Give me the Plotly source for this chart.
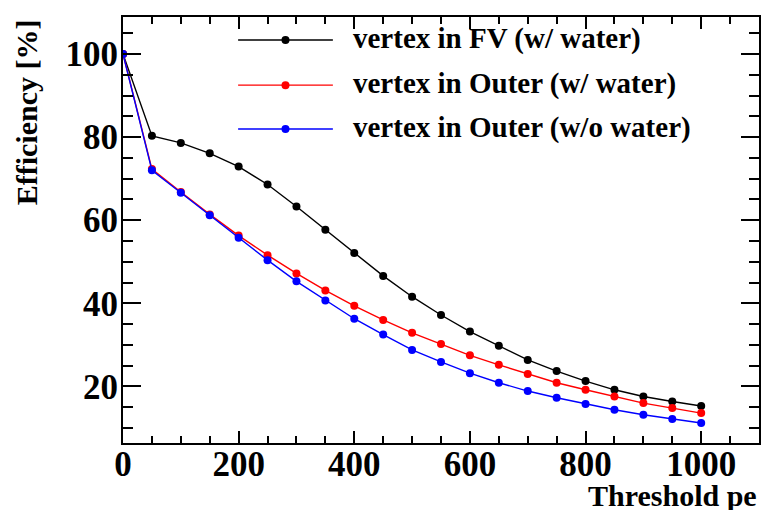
import plotly.graph_objects as go

# Threshold scan (photo-electrons) and selection efficiency in percent
threshold_pe = [0, 50, 100, 150, 200, 250, 300, 350, 400, 450, 500,
                550, 600, 650, 700, 750, 800, 850, 900, 950, 1000]

eff_fv_water = [100.0, 80.3, 78.6, 76.1, 72.9, 68.6, 63.3, 57.7, 52.1, 46.6, 41.6,
                37.2, 33.2, 29.8, 26.4, 23.7, 21.3, 19.2, 17.6, 16.4, 15.3]
eff_outer_water = [100.0, 72.3, 66.8, 61.4, 56.3, 51.6, 47.2, 43.1, 39.4, 36.0, 32.9,
                   30.2, 27.5, 25.2, 23.0, 20.9, 19.2, 17.6, 16.0, 14.8, 13.6]
eff_outer_nowater = [100.0, 72.0, 66.6, 61.2, 55.8, 50.4, 45.3, 40.7, 36.3, 32.5, 28.8,
                     25.9, 23.2, 20.9, 18.9, 17.3, 15.8, 14.4, 13.2, 12.2, 11.2]

series_names = ["vertex in FV (w/ water)",
                "vertex in Outer (w/ water)",
                "vertex in Outer (w/o water)"]
series_colors = ["#000000", "#ff0000", "#0000ff"]
series_values = [eff_fv_water, eff_outer_water, eff_outer_nowater]

x_ticks = [0, 200, 400, 600, 800, 1000]
y_ticks = [20, 40, 60, 80, 100]

FONT = "Liberation Serif"

fig = go.Figure()
for name, color, vals in zip(series_names, series_colors, series_values):
    fig.add_trace(go.Scatter(
        x=threshold_pe, y=vals, name=name, mode="lines+markers",
        line=dict(color=color, width=1.4),
        marker=dict(color=color, size=8, symbol="circle"),
        showlegend=False,
    ))

# Boxless legend drawn in paper space: line sample, dot, label
legend_rows_y = [0.946, 0.840, 0.737]
for name, color, ry in zip(series_names, series_colors, legend_rows_y):
    fig.add_shape(type="line", xref="paper", yref="paper",
                  x0=0.181, x1=0.330, y0=ry, y1=ry,
                  line=dict(color=color, width=1.4))
    fig.add_shape(type="circle", xref="paper", yref="paper",
                  x0=0.2555 - 0.0063, x1=0.2555 + 0.0063,
                  y0=ry - 0.0094, y1=ry + 0.0094,
                  fillcolor=color, line=dict(color=color, width=0))
    fig.add_annotation(text=name, xref="paper", yref="paper",
                       x=0.359, y=ry + 0.004, xanchor="left", yanchor="middle",
                       showarrow=False,
                       font=dict(family=FONT, size=29, color="black", weight="bold"))

# Axis titles, ROOT style (aligned to the end of each axis)
fig.add_annotation(text="Threshold pe", xref="paper", yref="paper",
                   x=1.0, y=-0.080, xanchor="right", yanchor="top",
                   showarrow=False,
                   font=dict(family=FONT, size=30, color="black", weight="bold"))
fig.add_annotation(text="Efficiency [%]", xref="paper", yref="paper",
                   x=-0.152, y=1.0, xanchor="center", yanchor="top",
                   textangle=-90, showarrow=False,
                   font=dict(family=FONT, size=30, color="black", weight="bold"))

axis_common = dict(
    showgrid=False, zeroline=False,
    showline=True, linecolor="black", linewidth=2, mirror="ticks",
    ticks="inside", tickcolor="black", tickwidth=2,
    tickfont=dict(family=FONT, size=35, color="black", weight="bold"),
)

fig.update_xaxes(range=[0, 1100], tickvals=x_ticks, ticklen=12,
                 minor=dict(dtick=50, tick0=0, ticks="inside", ticklen=7,
                            tickcolor="black", tickwidth=2),
                 ticklabelstandoff=-11, **axis_common)
fig.update_yaxes(range=[6.4, 108.9], tickvals=y_ticks, ticklen=18,
                 minor=dict(dtick=5, tick0=0, ticks="inside", ticklen=10,
                            tickcolor="black", tickwidth=2),
                 ticklabelstandoff=-4, **axis_common)

fig.update_layout(
    width=763, height=510,
    margin=dict(l=123, r=2, t=17, b=67),
    paper_bgcolor="white", plot_bgcolor="white",
    showlegend=False,
)

fig.write_html("out.html")
